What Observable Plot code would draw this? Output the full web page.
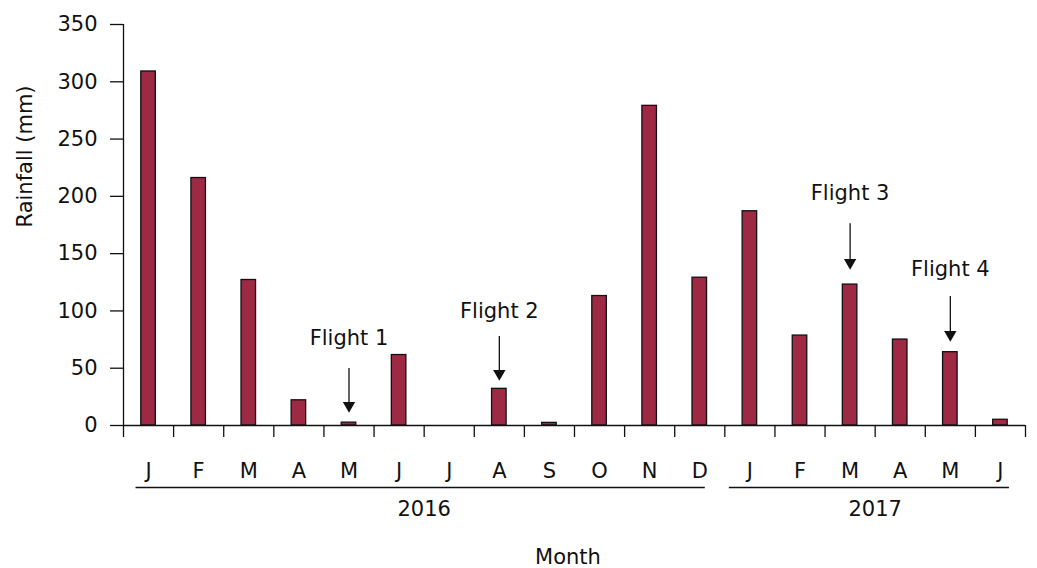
<!DOCTYPE html>
<html><head><meta charset="utf-8">
<script src="https://cdn.jsdelivr.net/npm/d3@7"></script>
<script src="https://cdn.jsdelivr.net/npm/@observablehq/plot@0.6"></script>
<style>body{margin:0;background:#fff}</style>
</head><body><div id="chart"></div>
<script>
const monthLabels = ["J","F","M","A","M","J","J","A","S","O","N","D","J","F","M","A","M","J"];
const rainfall = [309, 216, 127, 22, 2.5, 61.5, 0, 32, 2.3, 113, 279, 129, 187, 78.5, 123, 75, 64, 5];
const years = ["2016", "2017"];
const yearStart = [0.25, 12.09];
const yearEnd = [11.61, 17.68];
const yearCenter = [6, 15];
const flightNames = ["Flight 1", "Flight 2", "Flight 3", "Flight 4"];
const flightMonth = [4, 7, 14, 16];
const flightTextY = [76, 99.5, 202.5, 136];
const flightArrowTop = [49.7, 77.7, 176, 112.6];
const flightArrowTip = [11.3, 39.3, 136, 73.3];
const yTicks = [0, 50, 100, 150, 200, 250, 300, 350];
const xTicks = d3.range(0, 19);

const bars = rainfall.map((v, i) => ({i, v}));
const ink = "#111";

const chart = Plot.plot({
  width: 1037,
  height: 568,
  marginLeft: 123,
  marginRight: 12,
  marginTop: 24,
  marginBottom: 143,
  style: {fontFamily: "DejaVu Sans", fontSize: "21px", color: ink, background: "#fff", overflow: "visible"},
  x: {domain: [0, 18]},
  y: {domain: [0, 350]},
  marks: [
    Plot.rect(bars, {x1: d => d.i + 0.355, x2: d => d.i + 0.645, y1: 0, y2: "v", fill: "#9d2945", stroke: ink, strokeWidth: 1.3}),
    Plot.ruleY([0], {stroke: ink, strokeWidth: 1.3}),
    Plot.ruleX([0], {stroke: ink, strokeWidth: 1.3}),
    Plot.axisX({ticks: xTicks, tickSize: 12, tickFormat: () => "", label: null, stroke: ink, strokeWidth: 1.3}),
    Plot.axisY({ticks: yTicks, tickSize: 13, tickPadding: 13, fontSize: 21, label: null, stroke: ink, strokeWidth: 1.3, fill: ink}),
    Plot.text(monthLabels, {x: (d, i) => i + 0.5, y: () => 0, dy: 46, text: d => d, fill: ink, fontSize: 21, lineAnchor: "middle"}),
    Plot.ruleY(years, {x1: (d, i) => yearStart[i], x2: (d, i) => yearEnd[i], y: () => 0, dy: 62, stroke: ink, strokeWidth: 1.3}),
    Plot.text(years, {x: (d, i) => yearCenter[i], y: () => 0, dy: 84, text: d => d, fill: ink, fontSize: 21, lineAnchor: "middle"}),
    Plot.text(["Month"], {x: () => 8.87, y: () => 0, dy: 132, text: d => d, fill: ink, fontSize: 21, lineAnchor: "middle"}),
    Plot.text(["Rainfall (mm)"], {frameAnchor: "left", dx: -98, dy: 2.5, rotate: -90, text: d => d, fill: ink, fontSize: 21, lineAnchor: "middle"}),
    Plot.ruleX(flightNames, {x: (d, i) => flightMonth[i] + 0.5, y1: (d, i) => flightArrowTop[i], y2: (d, i) => flightArrowTip[i] + 6, stroke: ink, strokeWidth: 1.3}),
    Plot.dot(flightNames, {x: (d, i) => flightMonth[i] + 0.5, y: (d, i) => flightArrowTip[i], dy: -7, symbol: "triangle", rotate: 180, r: 4.6, fill: ink, stroke: "none"}),
    Plot.text(flightNames, {x: (d, i) => flightMonth[i] + 0.5, y: (d, i) => flightTextY[i], text: d => d, fill: ink, fontSize: 21, lineAnchor: "middle"})
  ]
});
document.getElementById("chart").appendChild(chart);
</script>
</body></html>
